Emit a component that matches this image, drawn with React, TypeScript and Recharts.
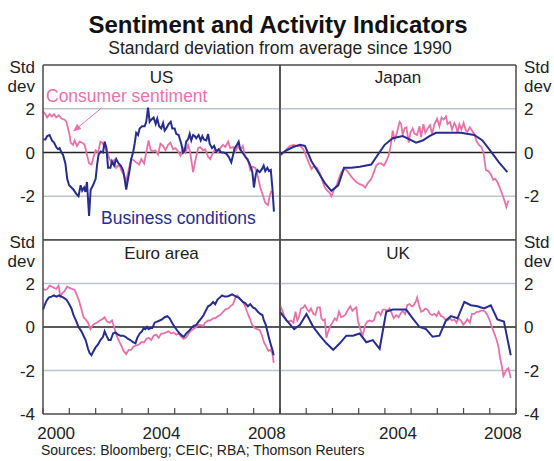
import React from "react";
import { LineChart, Line, XAxis, YAxis, ReferenceLine } from "recharts";

// [decimal year, std dev]
const usConsumer = [
  [2000.0, 1.88], [2000.09, 1.75], [2000.16, 1.6], [2000.25, 1.75], [2000.34, 1.65], [2000.42, 1.75],
  [2000.5, 1.6], [2000.6, 1.7], [2000.7, 1.55], [2000.82, 1.5], [2000.89, 1.4], [2000.95, 1.1],
  [2001.01, 0.8], [2001.05, 0.45], [2001.14, 0.35], [2001.2, 0.55], [2001.29, 0.3], [2001.39, 0.5],
  [2001.49, 0.45], [2001.58, 0.35], [2001.67, -0.1], [2001.75, -0.5], [2001.84, -0.55], [2001.92, -0.2],
  [2002.0, 0.1], [2002.09, 0.0], [2002.18, 0.5], [2002.25, 0.45], [2002.34, 0.25], [2002.43, 0.05],
  [2002.53, -0.3], [2002.62, -0.5], [2002.7, -0.35], [2002.78, -0.7], [2002.89, -0.55], [2002.97, -0.8],
  [2003.06, -1.0], [2003.16, -1.3], [2003.25, -0.8], [2003.35, -0.3], [2003.44, -0.35], [2003.54, -0.45],
  [2003.65, -0.55], [2003.73, -0.3], [2003.84, -0.5], [2003.92, 0.0], [2004.01, 0.55], [2004.09, 0.1],
  [2004.18, 0.05], [2004.27, 0.1], [2004.37, -0.1], [2004.46, 0.4], [2004.56, 0.3], [2004.65, 0.1],
  [2004.75, 0.35], [2004.84, 0.45], [2004.94, 0.15], [2005.03, 0.2], [2005.13, 0.05], [2005.22, -0.15],
  [2005.32, 0.2], [2005.41, 0.0], [2005.51, 0.35], [2005.59, 0.0], [2005.7, -0.9], [2005.78, -0.4],
  [2005.89, 0.2], [2005.97, 0.25], [2006.08, 0.1], [2006.16, 0.15], [2006.27, -0.2], [2006.35, -0.3],
  [2006.46, 0.0], [2006.54, 0.15], [2006.65, 0.0], [2006.73, 0.2], [2006.84, 0.35], [2006.92, 0.25],
  [2007.03, 0.5], [2007.11, 0.2], [2007.22, 0.25], [2007.3, 0.05], [2007.41, 0.3], [2007.49, 0.1],
  [2007.59, 0.3], [2007.68, -0.2], [2007.78, -0.3], [2007.87, -0.8], [2007.97, -0.65], [2008.06, -0.7],
  [2008.16, -1.1], [2008.25, -1.6], [2008.35, -1.95], [2008.44, -2.3], [2008.54, -2.4], [2008.61, -2.0],
  [2008.67, -1.75],
];

const usBusiness = [
  [2000.0, 0.6], [2000.09, 0.6], [2000.16, 0.75], [2000.25, 0.8], [2000.34, 0.55], [2000.42, 0.45],
  [2000.5, 0.25], [2000.57, 0.15], [2000.63, 0.2], [2000.7, 0.0], [2000.76, -0.1], [2000.85, -0.5],
  [2000.92, -1.2], [2000.99, -1.5], [2001.08, -1.6], [2001.16, -1.7], [2001.27, -1.9], [2001.35, -2.0],
  [2001.43, -1.5], [2001.49, -1.75], [2001.56, -1.6], [2001.61, -1.8], [2001.67, -1.35], [2001.75, -2.9],
  [2001.81, -1.7], [2001.9, -1.5], [2002.0, -1.2], [2002.05, -0.6], [2002.11, -0.1], [2002.19, 0.05],
  [2002.28, 0.0], [2002.34, 0.5], [2002.41, 0.2], [2002.47, -0.7], [2002.56, -0.7], [2002.62, -0.4],
  [2002.7, -0.6], [2002.78, -0.3], [2002.87, -0.5], [2002.95, -0.6], [2003.04, -0.8], [2003.1, -1.2],
  [2003.16, -1.7], [2003.23, -1.2], [2003.29, -0.8], [2003.35, -0.3], [2003.42, 0.0], [2003.48, 0.4],
  [2003.54, 0.9], [2003.61, 0.8], [2003.67, 1.1], [2003.76, 1.2], [2003.86, 1.2], [2003.92, 1.4],
  [2003.99, 2.05], [2004.05, 1.4], [2004.11, 1.5], [2004.2, 1.6], [2004.28, 1.3], [2004.34, 1.55],
  [2004.41, 1.2], [2004.49, 1.1], [2004.56, 1.35], [2004.62, 1.0], [2004.68, 1.1], [2004.77, 1.3],
  [2004.85, 1.4], [2004.91, 1.1], [2005.0, 1.1], [2005.06, 0.85], [2005.15, 0.8], [2005.25, 0.4],
  [2005.32, 0.0], [2005.38, 0.1], [2005.44, 0.5], [2005.51, 0.6], [2005.57, 0.85], [2005.63, 0.55],
  [2005.7, 0.8], [2005.76, 0.75], [2005.82, 0.65], [2005.91, 0.8], [2005.99, 0.55], [2006.05, 0.75],
  [2006.11, 0.6], [2006.2, 0.55], [2006.27, 0.85], [2006.33, 0.4], [2006.42, 0.2], [2006.5, 0.3],
  [2006.58, 0.05], [2006.67, 0.15], [2006.77, 0.0], [2006.86, 0.0], [2006.96, -0.05], [2007.05, -0.2],
  [2007.15, -0.45], [2007.22, -0.1], [2007.28, 0.2], [2007.34, 0.3], [2007.43, 0.5], [2007.49, 0.15],
  [2007.57, 0.0], [2007.66, -0.15], [2007.75, -0.3], [2007.82, -0.45], [2007.89, -0.65], [2007.95, -0.9],
  [2008.01, -1.6], [2008.08, -1.0], [2008.14, -0.8], [2008.23, -0.9], [2008.32, -0.75], [2008.38, -0.6],
  [2008.44, -0.85], [2008.52, -0.7], [2008.58, -0.85], [2008.65, -0.8], [2008.71, -1.6], [2008.77, -2.7],
];

const jpConsumer = [
  [2000.0, -0.15], [2000.13, 0.0], [2000.25, 0.15], [2000.38, 0.3], [2000.51, 0.35], [2000.63, 0.3],
  [2000.76, 0.3], [2000.89, 0.15], [2001.01, -0.2], [2001.11, -0.5], [2001.2, -0.75], [2001.3, -0.6],
  [2001.41, -0.7], [2001.52, -0.95], [2001.62, -1.3], [2001.71, -1.6], [2001.81, -1.75], [2001.9, -1.85],
  [2001.96, -2.0], [2002.06, -1.7], [2002.16, -1.5], [2002.27, -1.1], [2002.34, -0.9], [2002.44, -0.75],
  [2002.53, -0.8], [2002.66, -1.0], [2002.78, -1.2], [2002.91, -1.35], [2003.04, -1.45], [2003.16, -1.5],
  [2003.25, -1.6], [2003.35, -1.4], [2003.48, -1.2], [2003.58, -0.9], [2003.67, -0.6], [2003.77, -0.5],
  [2003.86, -0.5], [2003.96, -0.6], [2004.05, -0.4], [2004.14, -0.15], [2004.22, 0.3], [2004.3, 1.0],
  [2004.37, 0.6], [2004.46, 0.9], [2004.56, 1.4], [2004.62, 1.3], [2004.68, 0.8], [2004.75, 1.1],
  [2004.82, 1.15], [2004.91, 0.45], [2004.97, 0.9], [2005.06, 1.1], [2005.13, 0.85], [2005.23, 0.8],
  [2005.32, 1.2], [2005.38, 0.7], [2005.47, 1.3], [2005.54, 0.9], [2005.63, 1.1], [2005.72, 1.25],
  [2005.8, 0.85], [2005.89, 1.3], [2005.99, 1.55], [2006.08, 1.2], [2006.16, 1.6], [2006.24, 1.5],
  [2006.33, 1.65], [2006.39, 1.3], [2006.48, 1.4], [2006.56, 1.05], [2006.65, 1.35], [2006.71, 1.2],
  [2006.77, 0.9], [2006.84, 1.3], [2006.92, 1.05], [2007.0, 1.35], [2007.09, 1.0], [2007.15, 0.95],
  [2007.24, 1.15], [2007.32, 1.0], [2007.41, 0.85], [2007.5, 0.5], [2007.59, 0.35], [2007.68, 0.25],
  [2007.76, 0.0], [2007.85, -0.8], [2007.94, -0.85], [2008.04, -1.0], [2008.13, -1.25], [2008.2, -1.2],
  [2008.29, -1.35], [2008.38, -1.6], [2008.47, -1.9], [2008.56, -2.2], [2008.63, -2.5], [2008.71, -2.2],
];

const jpBusiness = [
  [2000.0, -0.1], [2000.25, 0.1], [2000.5, 0.25], [2000.76, 0.35], [2000.95, 0.3], [2001.2, -0.4],
  [2001.46, -0.9], [2001.71, -1.4], [2001.96, -1.75], [2002.22, -1.5], [2002.44, -0.7], [2002.72, -0.7],
  [2003.04, -0.65], [2003.48, -0.55], [2003.73, -0.1], [2003.99, 0.35], [2004.3, 0.65], [2004.68, 0.75],
  [2004.94, 0.6], [2005.19, 0.45], [2005.44, 0.55], [2005.7, 0.75], [2005.95, 0.9], [2006.39, 0.9],
  [2006.9, 0.9], [2007.41, 0.8], [2007.72, 0.55], [2008.04, 0.05], [2008.35, -0.45], [2008.67, -0.9],
];

const euConsumer = [
  [2000.0, 1.75], [2000.09, 1.7], [2000.16, 1.75], [2000.25, 1.9], [2000.34, 1.85], [2000.42, 1.8],
  [2000.5, 1.75], [2000.59, 1.9], [2000.66, 1.4], [2000.73, 1.55], [2000.82, 1.65], [2000.91, 1.85],
  [2001.01, 1.8], [2001.1, 1.75], [2001.2, 1.7], [2001.29, 1.45], [2001.37, 1.2], [2001.46, 0.8],
  [2001.54, 0.45], [2001.62, 0.35], [2001.71, 0.2], [2001.8, -0.1], [2001.87, 0.05], [2001.96, 0.15],
  [2002.05, 0.2], [2002.15, 0.3], [2002.24, 0.35], [2002.34, 0.45], [2002.43, 0.25], [2002.53, 0.2],
  [2002.62, 0.3], [2002.7, 0.0], [2002.78, -0.35], [2002.87, -0.6], [2002.97, -0.85], [2003.06, -1.1],
  [2003.16, -1.25], [2003.25, -1.05], [2003.35, -1.05], [2003.44, -0.9], [2003.54, -0.85], [2003.65, -0.8],
  [2003.73, -0.7], [2003.84, -0.7], [2003.92, -0.55], [2004.01, -0.5], [2004.11, -0.6], [2004.2, -0.4],
  [2004.3, -0.35], [2004.39, -0.5], [2004.49, -0.3], [2004.58, -0.3], [2004.68, -0.25], [2004.77, -0.2],
  [2004.87, -0.3], [2004.96, -0.25], [2005.06, -0.35], [2005.15, -0.3], [2005.25, -0.45], [2005.34, -0.55],
  [2005.42, -0.5], [2005.51, -0.35], [2005.59, -0.2], [2005.7, -0.1], [2005.78, -0.05], [2005.89, 0.1],
  [2005.97, 0.1], [2006.08, 0.05], [2006.16, 0.2], [2006.27, 0.3], [2006.35, 0.3], [2006.46, 0.4],
  [2006.54, 0.4], [2006.65, 0.5], [2006.73, 0.55], [2006.84, 0.7], [2006.92, 0.8], [2007.03, 0.85],
  [2007.11, 0.95], [2007.22, 1.05], [2007.3, 1.35], [2007.38, 1.45], [2007.47, 1.3], [2007.56, 1.2],
  [2007.66, 1.0], [2007.75, 0.7], [2007.85, 0.4], [2007.94, 0.1], [2008.04, -0.05], [2008.13, -0.1],
  [2008.23, -0.15], [2008.32, -0.4], [2008.39, -0.7], [2008.48, -0.9], [2008.56, -1.1], [2008.63, -1.05],
  [2008.71, -1.2], [2008.76, -1.65],
];

const euBusiness = [
  [2000.0, 0.8], [2000.06, 1.0], [2000.13, 1.2], [2000.22, 1.35], [2000.32, 1.4], [2000.41, 1.45],
  [2000.51, 1.4], [2000.61, 1.45], [2000.7, 1.4], [2000.78, 1.35], [2000.89, 1.25], [2000.97, 1.1],
  [2001.08, 0.85], [2001.16, 0.55], [2001.27, 0.25], [2001.35, 0.0], [2001.46, -0.2], [2001.54, -0.4],
  [2001.62, -0.6], [2001.71, -1.0], [2001.77, -1.2], [2001.84, -1.3], [2001.9, -1.15], [2001.99, -0.95],
  [2002.09, -0.8], [2002.18, -0.6], [2002.28, -0.45], [2002.34, -0.2], [2002.41, -0.4], [2002.49, -0.6],
  [2002.57, -0.6], [2002.66, -0.3], [2002.75, -0.25], [2002.85, -0.35], [2002.94, -0.4], [2003.04, -0.4],
  [2003.13, -0.45], [2003.23, -0.55], [2003.32, -0.6], [2003.42, -0.7], [2003.51, -0.75], [2003.58, -0.5],
  [2003.67, -0.3], [2003.76, -0.2], [2003.82, -0.05], [2003.89, -0.1], [2003.95, 0.0], [2004.01, -0.1],
  [2004.08, -0.05], [2004.15, -0.05], [2004.24, 0.2], [2004.33, 0.25], [2004.43, 0.3], [2004.52, 0.35],
  [2004.62, 0.45], [2004.72, 0.5], [2004.81, 0.4], [2004.9, 0.2], [2005.0, 0.0], [2005.09, -0.15],
  [2005.19, -0.3], [2005.28, -0.4], [2005.35, -0.45], [2005.44, -0.3], [2005.53, -0.2], [2005.63, -0.05],
  [2005.72, 0.05], [2005.82, 0.1], [2005.91, 0.25], [2006.01, 0.4], [2006.1, 0.55], [2006.18, 0.75],
  [2006.27, 0.95], [2006.35, 1.0], [2006.46, 1.15], [2006.54, 1.05], [2006.62, 1.25], [2006.71, 1.35],
  [2006.8, 1.45], [2006.9, 1.4], [2006.99, 1.4], [2007.09, 1.45], [2007.18, 1.5], [2007.25, 1.45],
  [2007.34, 1.4], [2007.43, 1.35], [2007.51, 1.25], [2007.59, 1.15], [2007.68, 1.1], [2007.78, 0.95],
  [2007.87, 1.05], [2007.97, 0.9], [2008.06, 0.85], [2008.16, 0.7], [2008.25, 0.6], [2008.33, 0.55],
  [2008.39, 0.3], [2008.46, 0.1], [2008.52, -0.2], [2008.58, -0.5], [2008.65, -0.8], [2008.71, -1.05],
  [2008.76, -1.3],
];

const ukConsumer = [
  [2000.0, 1.0], [2000.09, 0.75], [2000.16, 0.5], [2000.25, 0.3], [2000.34, 0.25], [2000.42, 0.3],
  [2000.51, 0.2], [2000.59, 0.7], [2000.66, 0.3], [2000.72, 0.45], [2000.8, 0.85], [2000.89, 0.9],
  [2000.95, 1.0], [2001.04, 0.8], [2001.11, 0.7], [2001.18, 0.85], [2001.27, 0.6], [2001.35, 0.55],
  [2001.43, 0.9], [2001.52, 0.9], [2001.58, 0.4], [2001.65, 0.3], [2001.71, 0.35], [2001.77, -0.5],
  [2001.84, -0.2], [2001.92, 0.05], [2002.0, 0.2], [2002.09, 0.4], [2002.16, 0.3], [2002.25, 0.7],
  [2002.34, 0.45], [2002.43, 0.5], [2002.51, 0.6], [2002.59, 0.8], [2002.68, 0.95], [2002.76, 0.75],
  [2002.85, 0.85], [2002.91, 0.9], [2002.97, 0.3], [2003.04, 0.0], [2003.1, -0.25], [2003.16, -0.35],
  [2003.25, 0.1], [2003.33, 0.25], [2003.42, 0.3], [2003.51, 0.25], [2003.58, 0.3], [2003.67, 0.65],
  [2003.76, 0.7], [2003.84, 0.55], [2003.92, 0.8], [2004.01, 0.8], [2004.09, 0.75], [2004.18, 0.85],
  [2004.27, 0.6], [2004.34, 0.4], [2004.43, 0.55], [2004.52, 0.45], [2004.59, 0.6], [2004.68, 0.75],
  [2004.77, 0.6], [2004.85, 1.0], [2004.94, 1.05], [2005.03, 0.95], [2005.1, 1.0], [2005.19, 1.2],
  [2005.23, 1.35], [2005.29, 1.05], [2005.38, 0.7], [2005.47, 0.75], [2005.54, 0.85], [2005.63, 0.8],
  [2005.72, 0.6], [2005.8, 0.55], [2005.89, 0.6], [2005.97, 0.5], [2006.05, 0.7], [2006.14, 0.5],
  [2006.23, 0.45], [2006.3, 0.35], [2006.39, 0.3], [2006.48, 0.4], [2006.56, 0.3], [2006.65, 0.35],
  [2006.73, 0.2], [2006.81, 0.4], [2006.9, 0.3], [2006.99, 0.1], [2007.06, 0.2], [2007.15, 0.35],
  [2007.24, 0.2], [2007.32, 0.6], [2007.41, 0.6], [2007.5, 0.7], [2007.57, 0.7], [2007.66, 0.75],
  [2007.75, 0.75], [2007.82, 0.7], [2007.91, 0.55], [2008.0, 0.3], [2008.08, 0.0], [2008.16, -0.25],
  [2008.25, -0.55], [2008.33, -0.9], [2008.39, -1.4], [2008.46, -1.8], [2008.52, -2.25], [2008.58, -2.1],
  [2008.65, -1.95], [2008.71, -1.9], [2008.8, -2.35],
];

const ukBusiness = [
  [2000.0, 0.7], [2000.25, 0.3], [2000.54, -0.1], [2000.76, 0.1], [2001.01, 0.6], [2001.27, 0.0],
  [2001.52, -0.4], [2001.77, -0.75], [2002.03, -1.05], [2002.28, -0.75], [2002.53, -0.4], [2002.78, -0.4],
  [2003.04, -0.3], [2003.29, -0.7], [2003.54, -0.6], [2003.8, -1.0], [2004.05, 0.7], [2004.3, 0.8],
  [2004.56, 0.8], [2004.81, 0.8], [2005.06, 0.4], [2005.32, 0.0], [2005.57, -0.1], [2005.82, -0.45],
  [2006.08, -0.4], [2006.33, 0.3], [2006.52, 0.5], [2006.77, 0.4], [2007.03, 1.15], [2007.28, 1.0],
  [2007.53, 0.95], [2007.78, 0.85], [2008.04, 1.0], [2008.29, 0.35], [2008.54, 0.25], [2008.8, -1.3],
];

const yearTicks = [2000, 2000.5, 2001, 2001.5, 2002, 2002.5, 2003, 2003.5, 2004, 2004.5, 2005, 2005.5, 2006, 2006.5, 2007, 2007.5, 2008, 2008.5, 2009];
const topTicks = [-2, 0, 2];
const bottomTicks = [-4, -2, 0, 2];

const PINK = "#e872a8";
const NAVY = "#262d8e";
const GRID = "#bac4cd";
const FRAME = "#4a4a4a";
const TEXT = "#222";
const FONT = '"Liberation Sans", Arial, Helvetica, sans-serif';

const rows = (a) => a.map(([x, v]) => ({ x, v }));

// integer years get an inward tick, half years carry the label
const makeYearTick = (labelYears) => (props) => {
  const { x, y, payload } = props;
  const v = payload.value;
  if (Number.isInteger(v)) {
    return <line x1={x} x2={x} y1={y} y2={y - 6} stroke={FRAME} strokeWidth={1.2} />;
  }
  const yr = Math.floor(v);
  if (!labelYears.includes(yr)) return <g />;
  return (
    <text x={x} y={y + 25} textAnchor="middle" fontSize={17} fill={TEXT} fontFamily={FONT}>
      {yr}
    </text>
  );
};

const arrowShape = (props) => {
  const { x1, y1, x2, y2 } = props;
  const ang = Math.atan2(y2 - y1, x2 - x1);
  const L = 8, W = 3.5;
  const bx = x2 - L * Math.cos(ang), by = y2 - L * Math.sin(ang);
  const px = -Math.sin(ang) * W, py = Math.cos(ang) * W;
  return (
    <g>
      <line x1={x1} y1={y1} x2={bx} y2={by} stroke={PINK} strokeWidth={1} />
      <polygon points={`${x2},${y2} ${bx + px},${by + py} ${bx - px},${by - py}`} fill={PINK} />
    </g>
  );
};

function Panel({ left, top, right, bottomAxis, consumer, business, labelYears, arrow }) {
  const width = right ? 278 : 294;
  const height = bottomAxis ? 218 : 179;
  const margin = right ? { top: 4, right: 0, bottom: 0, left: 4 } : { top: 4, right: 14, bottom: 0, left: 0 };
  return (
    <div style={{ position: "absolute", left, top }}>
      <LineChart width={width} height={height} margin={margin}>
        <XAxis
          type="number"
          dataKey="x"
          domain={[2000, 2009]}
          ticks={yearTicks}
          interval={0}
          hide={!bottomAxis}
          height={40}
          axisLine={false}
          tickLine={false}
          tickSize={0}
          tickMargin={0}
          tick={makeYearTick(labelYears || [])}
        />
        <YAxis
          type="number"
          domain={[-4, 4]}
          ticks={bottomAxis ? bottomTicks : topTicks}
          interval={0}
          orientation={right ? "right" : "left"}
          width={right ? 38 : 43}
          axisLine={false}
          tickLine={false}
          tick={{ fontSize: 17, fill: TEXT, fontFamily: FONT }}
        />
        <ReferenceLine y={2} stroke={GRID} strokeWidth={1.3} />
        <ReferenceLine y={-2} stroke={GRID} strokeWidth={1.3} />
        <ReferenceLine y={0} stroke="#222" strokeWidth={1.3} />
        <Line data={rows(consumer)} dataKey="v" type="linear" stroke={PINK} strokeWidth={1.8} dot={false} isAnimationActive={false} />
        <Line data={rows(business)} dataKey="v" type="linear" stroke={NAVY} strokeWidth={2} dot={false} isAnimationActive={false} />
        {arrow && (
          <ReferenceLine
            segment={[{ x: 2002.22, y: 2.03 }, { x: 2001.14, y: 0.96 }]}
            shape={arrowShape}
            ifOverflow="visible"
          />
        )}
        <ReferenceLine y={4} stroke={FRAME} strokeWidth={1.5} />
        <ReferenceLine y={-4} stroke={FRAME} strokeWidth={1.5} />
        <ReferenceLine x={2000} stroke={FRAME} strokeWidth={1.5} />
        <ReferenceLine x={2009} stroke={FRAME} strokeWidth={1.5} />
      </LineChart>
    </div>
  );
}

export default function App() {
  const t = { fontFamily: FONT, fill: TEXT };
  return (
    <div style={{ position: "absolute", left: 0, top: 0, width: 554, height: 461, background: "#fff", fontFamily: FONT }}>
      <Panel left={0} top={61} consumer={usConsumer} business={usBusiness} arrow />
      <Panel left={276} top={61} right consumer={jpConsumer} business={jpBusiness} />
      <Panel left={0} top={236} bottomAxis consumer={euConsumer} business={euBusiness} labelYears={[2000, 2004, 2008]} />
      <Panel left={276} top={236} right bottomAxis consumer={ukConsumer} business={ukBusiness} labelYears={[2004, 2008]} />
      <svg width={554} height={461} style={{ position: "absolute", left: 0, top: 0, pointerEvents: "none" }}>
        <text x={278} y={33} textAnchor="middle" fontSize={24} fontWeight="bold" {...t} fill="#111">
          Sentiment and Activity Indicators
        </text>
        <text x={280} y={54} textAnchor="middle" fontSize={17.5} {...t}>
          Standard deviation from average since 1990
        </text>
        <text x={35} y={73} textAnchor="end" fontSize={17} {...t}>Std</text>
        <text x={35} y={91.5} textAnchor="end" fontSize={17} {...t}>dev</text>
        <text x={524} y={73} fontSize={17} {...t}>Std</text>
        <text x={524} y={91.5} fontSize={17} {...t}>dev</text>
        <text x={35} y={248} textAnchor="end" fontSize={17} {...t}>Std</text>
        <text x={35} y={266.5} textAnchor="end" fontSize={17} {...t}>dev</text>
        <text x={524} y={248} fontSize={17} {...t}>Std</text>
        <text x={524} y={266.5} fontSize={17} {...t}>dev</text>
        <text x={161.5} y={83} textAnchor="middle" fontSize={17} {...t}>US</text>
        <text x={398} y={83} textAnchor="middle" fontSize={17} {...t}>Japan</text>
        <text x={161.5} y={258.5} textAnchor="middle" fontSize={17} {...t}>Euro area</text>
        <text x={398} y={258.5} textAnchor="middle" fontSize={17} {...t}>UK</text>
        <text x={46} y={102} fontSize={17.5} fontFamily={FONT} fill={PINK}>Consumer sentiment</text>
        <text x={101} y={224} fontSize={17.5} fontFamily={FONT} fill={NAVY}>Business conditions</text>
        <text x={41} y={455} fontSize={14} {...t}>Sources: Bloomberg; CEIC; RBA; Thomson Reuters</text>
      </svg>
    </div>
  );
}
